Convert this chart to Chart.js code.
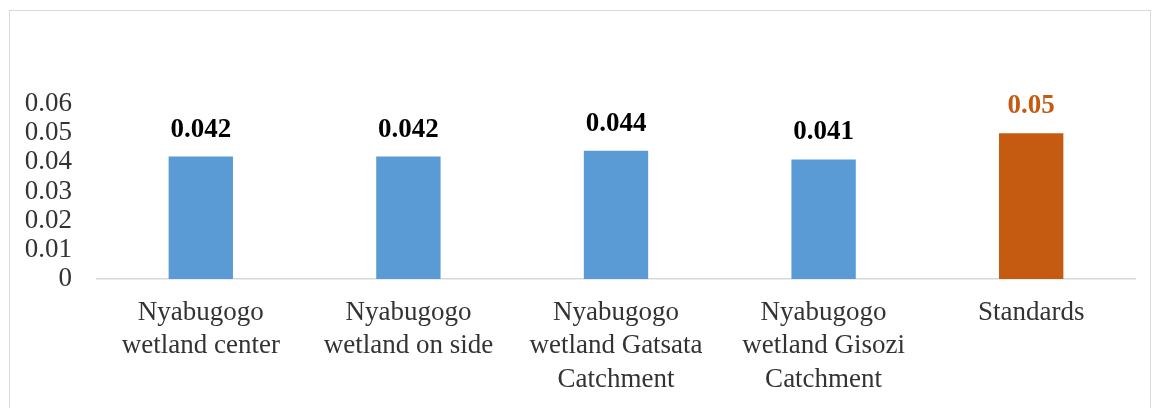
<!DOCTYPE html>
<html>
<head>
<meta charset="utf-8">
<script src="https://cdn.jsdelivr.net/npm/chart.js@4"></script>
<style>
  html, body { margin: 0; padding: 0; background: #fff; }
  #wrap { position: relative; width: 1155px; height: 408px; overflow: hidden; }
  #frame { position: absolute; left: 9px; top: 10px; width: 1142px; height: 420px;
           border: 1px solid #d9d9d9; box-sizing: border-box; }
  canvas { position: absolute; left: 0; top: 0; }
</style>
</head>
<body>
<div id="wrap">
  <div id="frame"></div>
  <canvas id="myChart" width="1155" height="408"></canvas>
</div>
<script>
// site labels (multi-line) and measured values
var sites = [
  ["Nyabugogo", "wetland center"],
  ["Nyabugogo", "wetland on side"],
  ["Nyabugogo", "wetland Gatsata", "Catchment"],
  ["Nyabugogo", "wetland Gisozi", "Catchment"],
  "Standards",
];
var values = [0.042, 0.042, 0.044, 0.041, 0.05];
var valueLabels = ["0.042", "0.042", "0.044", "0.041", "0.05"];
var barColors = ["#5b9bd5", "#5b9bd5", "#5b9bd5", "#5b9bd5", "#c55a11"];
var labelColors = ["#000000", "#000000", "#000000", "#000000", "#c55a11"];

var serif = "'Liberation Serif', 'Times New Roman', serif";

// values above the bars
var valueLabelPlugin = {
  id: "valueLabels",
  afterDatasetsDraw: function (chart) {
    var ctx = chart.ctx;
    var meta = chart.getDatasetMeta(0);
    ctx.save();
    ctx.font = "bold 27px " + serif;
    ctx.textAlign = "center";
    ctx.textBaseline = "alphabetic";
    meta.data.forEach(function (bar, i) {
      ctx.fillStyle = labelColors[i];
      ctx.fillText(valueLabels[i], bar.x, bar.y - 20);
    });
    ctx.restore();
  },
};

var ctx = document.getElementById("myChart");
var myChart = new Chart(ctx, {
  type: "bar",
  data: {
    labels: sites,
    datasets: [
      {
        data: values,
        backgroundColor: barColors,
        borderWidth: 0,
        categoryPercentage: 1,
        barPercentage: 0.31,
      },
    ],
  },
  options: {
    responsive: false,
    animation: false,
    layout: { padding: { top: 104, right: 20, left: 0, bottom: 0 } },
    plugins: { legend: { display: false }, tooltip: { enabled: false } },
    scales: {
      x: {
        grid: { display: false, drawTicks: false },
        border: { display: true, color: "#d9d9d9", width: 1.5 },
        ticks: {
          color: "#333333",
          padding: 17,
          maxRotation: 0,
          autoSkip: false,
          font: { family: serif, size: 27, lineHeight: 1.24 },
        },
        afterFit: function (scale) { scale.height = 129; },
      },
      y: {
        min: 0,
        max: 0.06,
        grid: { display: false, drawTicks: false },
        border: { display: false },
        ticks: {
          stepSize: 0.01,
          autoSkip: false,
          color: "#333333",
          padding: 25,
          font: { family: serif, size: 27 },
          callback: function (v) { return String(parseFloat(v.toFixed(2))); },
        },
        afterFit: function (scale) { scale.width = 97; },
      },
    },
  },
  plugins: [valueLabelPlugin],
});
</script>
</body>
</html>
